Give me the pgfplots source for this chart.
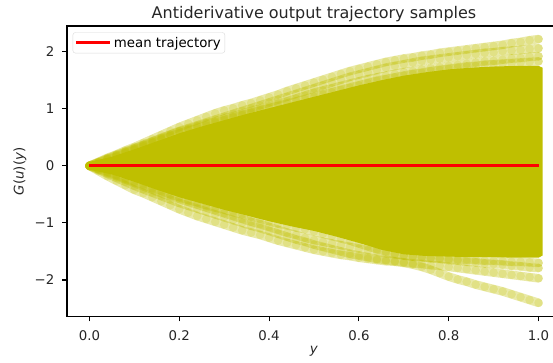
\documentclass[border=0pt]{standalone}
\usepackage{pgfplots}
\usepackage{pgfplotstable}
\pgfplotsset{compat=1.18}
\usepackage{fontspec}
\setmainfont{DejaVu Sans}
\definecolor{oli}{RGB}{191,191,0}
\definecolor{spine}{RGB}{0,0,0}

\pgfplotstableread{
x u1 u2 u3 u4 l1 l2 l3 l4
0.00 0.00 0.00 0.00 0.00 0.00 0.00 0.00 0.00
0.02 0.07 0.06 0.06 0.05 -0.09 -0.07 -0.06 -0.05
0.04 0.14 0.13 0.12 0.11 -0.18 -0.14 -0.12 -0.10
0.06 0.20 0.19 0.18 0.16 -0.26 -0.21 -0.18 -0.16
0.08 0.27 0.25 0.24 0.22 -0.34 -0.28 -0.24 -0.22
0.10 0.33 0.31 0.30 0.28 -0.42 -0.35 -0.30 -0.28
0.12 0.40 0.37 0.36 0.34 -0.48 -0.41 -0.36 -0.33
0.14 0.47 0.43 0.42 0.40 -0.55 -0.47 -0.42 -0.39
0.16 0.54 0.49 0.48 0.46 -0.62 -0.53 -0.48 -0.44
0.18 0.61 0.55 0.54 0.52 -0.69 -0.59 -0.53 -0.50
0.20 0.68 0.61 0.60 0.57 -0.76 -0.65 -0.58 -0.55
0.22 0.74 0.66 0.64 0.62 -0.82 -0.70 -0.63 -0.60
0.24 0.80 0.71 0.69 0.66 -0.88 -0.75 -0.68 -0.64
0.26 0.86 0.76 0.74 0.71 -0.93 -0.80 -0.73 -0.69
0.28 0.92 0.81 0.78 0.76 -0.98 -0.85 -0.78 -0.73
0.30 0.97 0.86 0.83 0.80 -1.03 -0.90 -0.83 -0.77
0.32 1.01 0.91 0.87 0.85 -1.08 -0.95 -0.88 -0.81
0.34 1.06 0.96 0.91 0.89 -1.13 -1.00 -0.93 -0.85
0.36 1.10 1.01 0.96 0.93 -1.17 -1.05 -0.98 -0.89
0.38 1.15 1.06 1.00 0.97 -1.21 -1.09 -1.02 -0.93
0.40 1.20 1.11 1.04 1.01 -1.26 -1.14 -1.07 -0.97
0.42 1.25 1.16 1.09 1.05 -1.31 -1.19 -1.12 -1.01
0.44 1.31 1.21 1.13 1.09 -1.35 -1.24 -1.17 -1.04
0.46 1.36 1.26 1.18 1.13 -1.39 -1.29 -1.21 -1.08
0.48 1.41 1.31 1.23 1.17 -1.43 -1.33 -1.26 -1.11
0.50 1.46 1.36 1.28 1.21 -1.47 -1.38 -1.30 -1.15
0.52 1.51 1.41 1.32 1.25 -1.50 -1.42 -1.33 -1.19
0.54 1.56 1.46 1.36 1.29 -1.53 -1.46 -1.36 -1.23
0.56 1.61 1.51 1.40 1.33 -1.56 -1.50 -1.39 -1.27
0.58 1.66 1.56 1.44 1.37 -1.58 -1.54 -1.42 -1.31
0.60 1.70 1.60 1.48 1.41 -1.61 -1.57 -1.45 -1.36
0.62 1.74 1.64 1.52 1.45 -1.63 -1.60 -1.48 -1.41
0.64 1.78 1.68 1.55 1.49 -1.65 -1.63 -1.50 -1.46
0.66 1.82 1.72 1.58 1.52 -1.67 -1.65 -1.53 -1.50
0.68 1.85 1.75 1.61 1.55 -1.68 -1.67 -1.55 -1.54
0.70 1.88 1.78 1.64 1.58 -1.70 -1.69 -1.57 -1.57
0.72 1.90 1.81 1.66 1.61 -1.73 -1.71 -1.59 -1.59
0.74 1.93 1.84 1.69 1.63 -1.77 -1.72 -1.60 -1.60
0.76 1.95 1.86 1.71 1.66 -1.82 -1.74 -1.62 -1.61
0.78 1.98 1.88 1.73 1.68 -1.88 -1.75 -1.63 -1.62
0.80 2.00 1.90 1.75 1.70 -1.94 -1.77 -1.65 -1.63
0.82 2.02 1.92 1.77 1.72 -1.99 -1.79 -1.66 -1.64
0.84 2.04 1.94 1.79 1.74 -2.03 -1.81 -1.68 -1.64
0.86 2.06 1.96 1.81 1.75 -2.08 -1.83 -1.69 -1.65
0.88 2.08 1.98 1.83 1.77 -2.12 -1.85 -1.71 -1.66
0.90 2.10 1.99 1.84 1.78 -2.16 -1.87 -1.72 -1.66
0.92 2.12 2.01 1.86 1.79 -2.20 -1.89 -1.73 -1.67
0.94 2.15 2.02 1.88 1.80 -2.25 -1.91 -1.75 -1.68
0.96 2.17 2.03 1.89 1.81 -2.30 -1.93 -1.76 -1.68
0.98 2.20 2.05 1.91 1.82 -2.35 -1.95 -1.78 -1.69
1.00 2.22 2.06 1.92 1.83 -2.40 -1.97 -1.79 -1.70
}\traj

\begin{document}
\begin{tikzpicture}
\begin{axis}[
  at={(0pt,0pt)}, anchor=south west,
  scale only axis,
  width=494pt, height=290.7pt,
  xmin=-0.05, xmax=1.05,
  ymin=-2.643, ymax=2.45,
  clip mode=individual,
  axis line style={spine, line width=1.07pt},
  tick align=outside,
  major tick length=4.67pt,
  tick style={spine, line width=1.07pt},
  xtick={0,0.2,0.4,0.6,0.8,1.0},
  xticklabels={0.0,0.2,0.4,0.6,0.8,1.0},
  ytick={-2,-1,0,1,2},
  yticklabels={−2,−1,0,1,2},
  xtick pos=bottom, ytick pos=left,
  tick label style={font=\fontsize{13.33}{16}\selectfont, text=black!85},
  xticklabel style={yshift=-5.5pt},
  yticklabel style={xshift=-4.5pt},
  title={Antiderivative output trajectory samples},
  every axis title/.style={font=\fontsize{16}{19}\selectfont, at={(axis description cs:0.5,1)}, anchor=base, yshift=7pt, text=black!85},
  ylabel={\textit{G}(\textit{u})(\textit{y})},
  xlabel={\textit{y}},
  every axis y label/.style={at={(axis description cs:-0.0951,0.5)}, rotate=90, anchor=center, font=\fontsize{13.33}{16}\selectfont, text=black!85},
  every axis x label/.style={at={(axis description cs:0.5,-0.1204)}, anchor=center, font=\fontsize{13.33}{16}\selectfont, text=black!85},
  legend style={at={(axis description cs:0,1)}, anchor=north west, xshift=5.7pt, yshift=-6.3pt,
    draw=black!15, rounded corners=2.5pt, fill=white, fill opacity=0.8, text opacity=1,
    font=\fontsize{13.33}{16}\selectfont, inner xsep=2pt, inner ysep=2.5pt},
  legend image code/.code={\draw[#1] (0pt,0pt) -- (28.7pt,0pt); \path (0pt,0pt) -- (34pt,0pt);},
]
% dense core of the trajectories
\addplot[fill=oli, draw=none, forget plot] coordinates {
(-0.009,0.00) (-0.005,0.05) (0,0.07) (0.05,0.16) (0.1,0.29) (0.15,0.43) (0.2,0.57)
(0.25,0.69) (0.3,0.80) (0.35,0.91) (0.4,1.01) (0.45,1.11) (0.5,1.21) (0.55,1.31)
(0.6,1.41) (0.65,1.50) (0.7,1.58) (0.75,1.64) (0.8,1.69) (0.85,1.72) (0.9,1.74)
(0.95,1.75) (1.0,1.75) (1.009,1.72)
(1.009,-1.57) (1.0,-1.61) (0.95,-1.61) (0.9,-1.60) (0.85,-1.60) (0.8,-1.59)
(0.75,-1.58) (0.7,-1.55) (0.65,-1.47) (0.6,-1.35) (0.55,-1.24) (0.5,-1.14)
(0.45,-1.06) (0.4,-0.97) (0.35,-0.87) (0.3,-0.77) (0.25,-0.66) (0.2,-0.55)
(0.15,-0.42) (0.1,-0.28) (0.05,-0.15) (0,-0.07) (-0.005,-0.05)
} --cycle;
% trajectories at the edge, translucent markers
\foreach \c in {u4,l4,u3,l3,u2,l2,u1,l1}{
\addplot[oli, line width=8.6pt, draw opacity=0.34, line cap=round, line join=round,
  mark=*, mark size=4.3pt, forget plot,
  mark options={line width=0pt, draw opacity=0, fill opacity=0.2}] table[x=x, y=\c] {\traj};
}
% mean trajectory
\addplot[red, line width=3pt] coordinates {(0,0.0) (0.5,0.0) (1.0,0.0)};
\addlegendentry{mean trajectory}
\end{axis}
\pgfresetboundingbox
\useasboundingbox (-67pt,-45.3pt) rectangle (486pt,316.7pt);
\end{tikzpicture}
\end{document}
